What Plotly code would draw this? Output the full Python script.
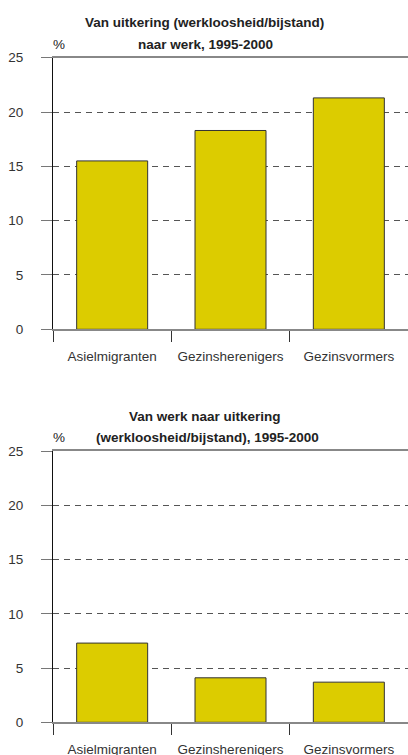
import plotly.graph_objects as go

categories = ["Asielmigranten", "Gezinsherenigers", "Gezinsvormers"]
uitkering_naar_werk = [15.5, 18.3, 21.3]
werk_naar_uitkering = [7.3, 4.1, 3.7]
y_ticks = [0, 5, 10, 15, 20, 25]
title_top = ["Van uitkering (werkloosheid/bijstand)", "naar werk, 1995-2000"]
title_bottom = ["Van werk naar uitkering", "(werkloosheid/bijstand), 1995-2000"]

W, H = 408, 755
BAR = "#DCCC00"
FONT = "Liberation Sans, Arial, sans-serif"

def py(p):
    return 1 - p / H

fig = go.Figure()
fig.add_trace(go.Bar(x=categories, y=uitkering_naar_werk, xaxis="x", yaxis="y",
                     marker=dict(color=BAR, line=dict(color="#333333", width=1)),
                     width=0.6, showlegend=False))
fig.add_trace(go.Bar(x=categories, y=werk_naar_uitkering, xaxis="x2", yaxis="y2",
                     marker=dict(color=BAR, line=dict(color="#333333", width=1)),
                     width=0.6, showlegend=False))

xdom = [53 / W, 1.0]
common_x = dict(
    domain=xdom, range=[-0.5, 2.5], type="category", automargin=False,
    showline=True, linecolor="#888888", linewidth=2, mirror=True,
    ticks="outside", tickson="boundaries", ticklen=11, tickcolor="#333333", tickwidth=1,
    tickfont=dict(family=FONT, size=13.5, color="#333333"), tickangle=0,
    showgrid=False, zeroline=False, ticklabelstandoff=13,
)
common_y = dict(
    range=[0, 25], tickvals=y_ticks, automargin=False,
    showline=True, linecolor="#111111", linewidth=1,
    ticks="outside", ticklen=11, tickcolor="#777777", tickwidth=1,
    tickfont=dict(family=FONT, size=13.5, color="#333333"),
    ticklabelstandoff=15,
    showgrid=True, gridcolor="#555555", gridwidth=1, griddash="6px,5px",
    zeroline=False,
)

fig.update_layout(
    width=W, height=H, margin=dict(l=0, r=0, t=0, b=0, autoexpand=False),
    paper_bgcolor="white", plot_bgcolor="white",
    bargap=0.4,
    xaxis=dict(anchor="y", **common_x),
    yaxis=dict(domain=[py(329.3), py(57.7)], anchor="x", **common_y),
    xaxis2=dict(anchor="y2", **common_x),
    yaxis2=dict(domain=[py(722.3), py(451)], anchor="x2", **common_y),
)

ann = []
def txt(x, y, s, bold=True, size=13.5):
    ann.append(dict(x=x / W, y=py(y), xref="paper", yref="paper", text=(f"<b>{s}</b>" if bold else s),
                    showarrow=False, xanchor="center", yanchor="middle",
                    font=dict(family=FONT, size=size, color="#222222")))

txt(204, 22, title_top[0])
txt(205, 44, title_top[1])
txt(59, 44, "%", bold=False)
txt(205, 416, title_bottom[0])
txt(207, 437, title_bottom[1])
txt(59, 437, "%", bold=False)
fig.update_layout(annotations=ann)

fig.write_html("out.html", config={"displayModeBar": False},
               post_script="document.body.style.margin='0';document.body.style.overflow='hidden';")
